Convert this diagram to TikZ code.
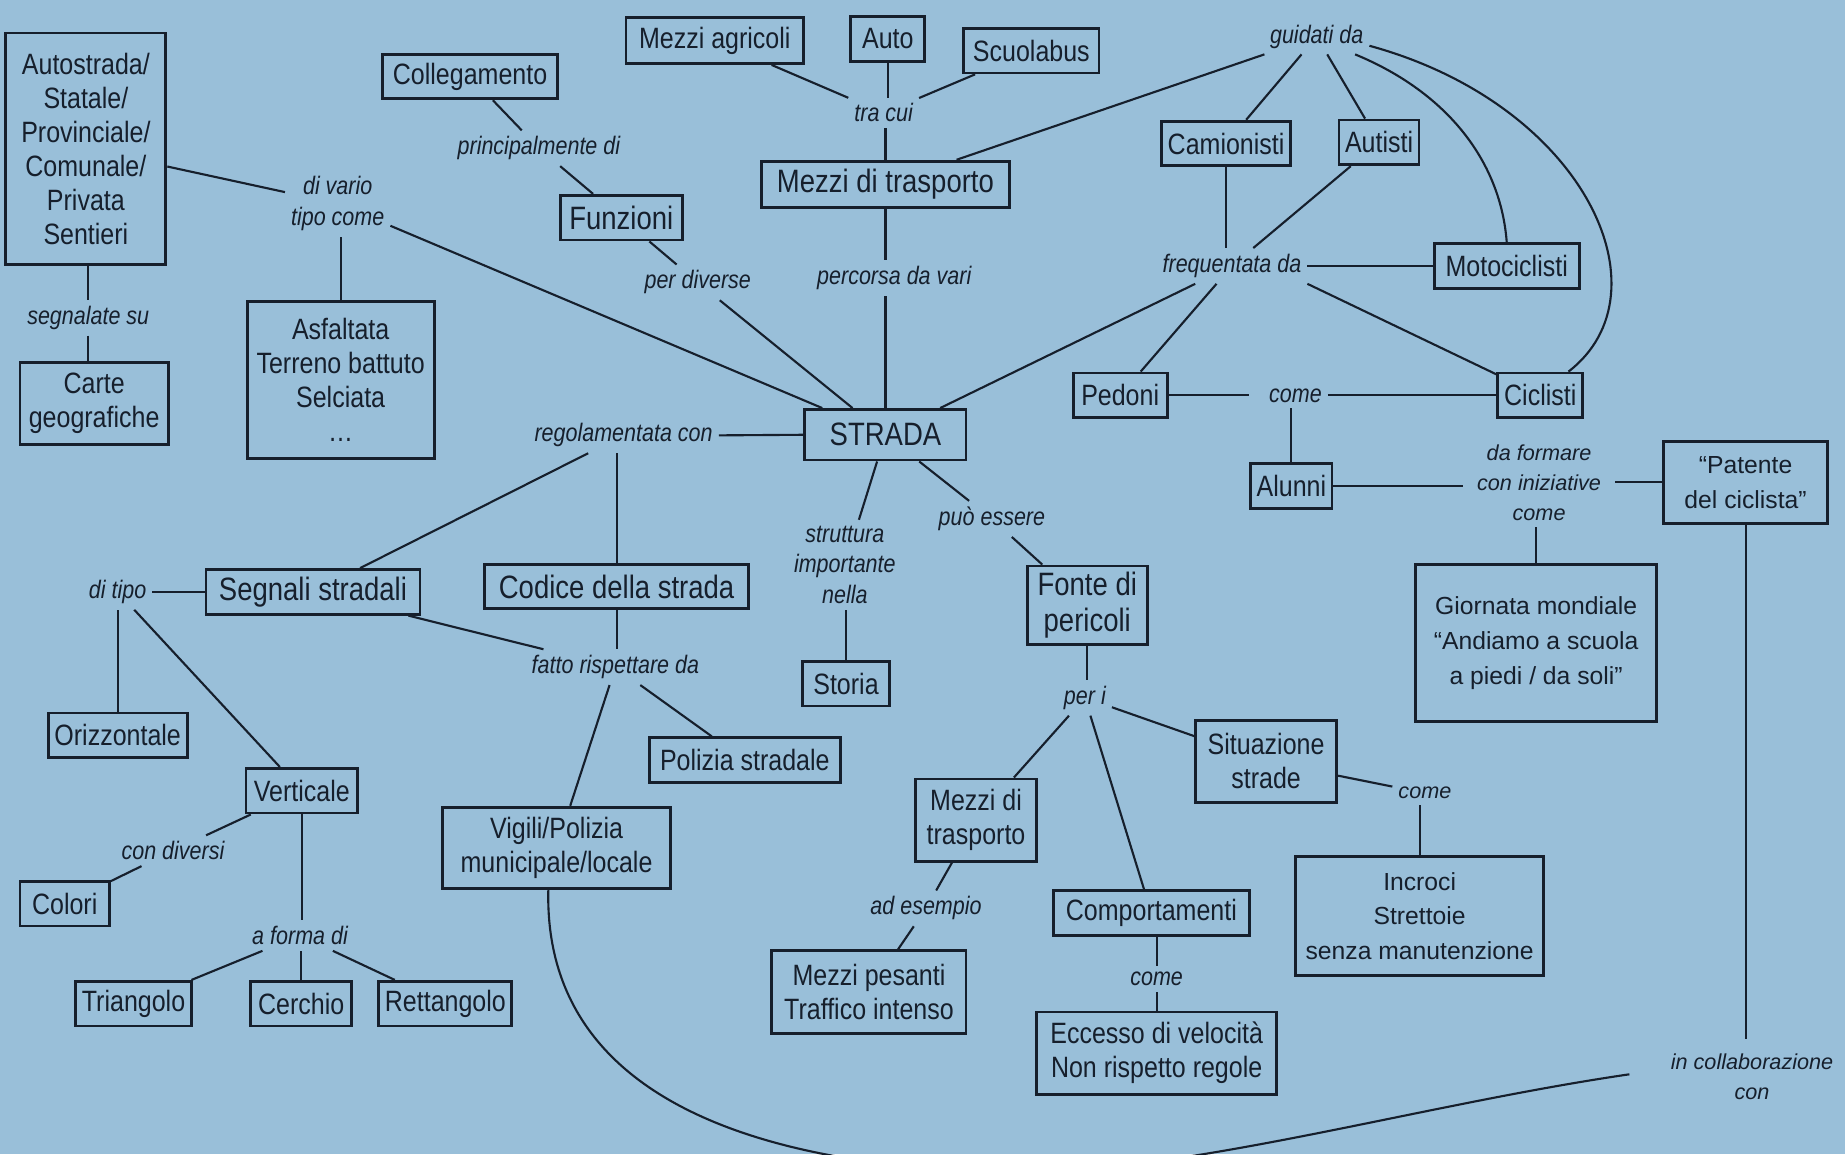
\documentclass[tikz,border=0pt]{standalone}
\usepackage{fontspec}
\setmainfont{Liberation Sans}[FakeStretch=0.85]
\newfontfamily\widefont{Liberation Sans}
\definecolor{bg}{RGB}{153,191,217}
\definecolor{fg}{RGB}{22,31,44}
\begin{document}
\begin{tikzpicture}[x=1pt,y=-1pt,
  box/.style={draw=fg, line width=2.4pt, inner sep=0pt, align=center, text=fg, font=\fontsize{25}{29}\selectfont},
  mainbox/.style={box, font=\fontsize{27.5}{31}\selectfont},
  widebox/.style={box, font=\widefont\fontsize{21}{29.5}\selectfont},
  lab/.style={inner sep=5pt, align=center, text=fg, font=\itshape\fontsize{21.5}{26}\selectfont},
  widelab/.style={lab, font=\widefont\itshape\fontsize{18.4}{25.5}\selectfont},
  conn/.style={draw=fg, line width=1.8pt},
]
\fill[bg] (0,0) rectangle (1568,981);
\useasboundingbox (0,0) rectangle (1568,981);

% boxes
\node[box, minimum width=136pt, minimum height=197pt] (autostr) at (73,126.5) {Autostrada/\\Statale/\\Provinciale/\\Comunale/\\Privata\\Sentieri};
\node[box, minimum width=126pt, minimum height=70pt] (carte) at (80,343) {Carte\\geografiche};
\node[box, minimum width=149pt, minimum height=38pt] (colleg) at (399.5,65) {Collegamento};
\node[mainbox, minimum width=104pt, minimum height=38pt] (funz) at (528,185) {Funzioni};
\node[box, minimum width=159pt, minimum height=134pt] (asfalt) at (289.5,323) {Asfaltata\\Terreno battuto\\Selciata\\…};
\node[box, minimum width=151pt, minimum height=39pt] (agric) at (607.5,34.5) {Mezzi agricoli};
\node[box, minimum width=63pt, minimum height=38pt] (autoN) at (754.5,33) {Auto};
\node[box, minimum width=115pt, minimum height=38pt] (scuola) at (876.5,43) {Scuolabus};
\node[mainbox, minimum width=211pt, minimum height=39pt] (mezzi) at (752.5,156.5) {Mezzi di trasporto};
\node[box, minimum width=110pt, minimum height=38pt] (camion) at (1042,122) {Camionisti};
\node[box, minimum width=68pt, minimum height=38pt] (autisti) at (1172,121) {Autisti};
\node[box, minimum width=123pt, minimum height=38pt] (moto) at (1280.5,226) {Motociclisti};
\node[box, minimum width=80pt, minimum height=38pt] (pedoni) at (952,336) {Pedoni};
\node[box, minimum width=72pt, minimum height=38pt] (ciclisti) at (1309,336) {Ciclisti};
\node[mainbox, minimum width=137pt, minimum height=43pt] (strada) at (752.5,369.5) {STRADA};
\node[box, minimum width=69pt, minimum height=38pt] (alunni) at (1097.5,413) {Alunni};
\node[widebox, minimum width=139pt, minimum height=70pt] (patente) at (1483.5,410) {“Patente\\del ciclista”};
\node[widebox, minimum width=205pt, minimum height=133pt] (giornata) at (1305.5,546.5) {Giornata mondiale\\“Andiamo a scuola\\a piedi / da soli”};
\node[mainbox, minimum width=182pt, minimum height=38pt] (segnali) at (266,503) {Segnali stradali};
\node[mainbox, minimum width=224pt, minimum height=37pt] (codice) at (524,498.5) {Codice della strada};
\node[box, minimum width=74pt, minimum height=38pt] (storia) at (719,581) {Storia};
\node[mainbox, minimum width=102pt, minimum height=67pt] (fonte) at (924,514.5) {Fonte di\\pericoli};
\node[box, minimum width=118pt, minimum height=38pt] (orizz) at (100,625) {Orizzontale};
\node[box, minimum width=95pt, minimum height=38pt] (vert) at (256.5,672) {Verticale};
\node[box, minimum width=162pt, minimum height=38pt] (polizia) at (633,646) {Polizia stradale};
\node[box, minimum width=194pt, minimum height=69pt] (vigili) at (473,720.5) {Vigili/Polizia\\municipale/locale};
\node[box, minimum width=120pt, minimum height=70pt] (situaz) at (1076,647) {Situazione\\strade};
\node[box, minimum width=103pt, minimum height=70pt] (mezzi2) at (829.5,697) {Mezzi di\\trasporto};
\node[box, minimum width=76pt, minimum height=38pt] (colori) at (55,768) {Colori};
\node[box, minimum width=99pt, minimum height=38pt] (triang) at (113.5,853) {Triangolo};
\node[box, minimum width=86pt, minimum height=38pt] (cerchio) at (256,853) {Cerchio};
\node[box, minimum width=113pt, minimum height=38pt] (rettang) at (378.5,853) {Rettangolo};
\node[box, minimum width=167pt, minimum height=38pt] (comport) at (978.5,776) {Comportamenti};
\node[widebox, minimum width=211pt, minimum height=101pt] (incroci) at (1206.5,778.5) {Incroci\\Strettoie\\senza manutenzione};
\node[box, minimum width=165pt, minimum height=70pt] (pesanti) at (738.5,843) {Mezzi pesanti\\Traffico intenso};
\node[box, minimum width=204pt, minimum height=70pt] (eccesso) at (983,895) {Eccesso di velocità\\Non rispetto regole};

% labels
\node[lab] (lsegn) at (75,270) {segnalate su};
\node[lab] (lvario) at (287,173) {di vario\\tipo come};
\node[lab] (lprinc) at (458,126) {principalmente di};
\node[lab] (lperdiv) at (593,240) {per diverse};
\node[lab] (ltracui) at (751,96) {tra cui};
\node[lab] (lperc) at (760,236) {percorsa da vari};
\node[lab] (lguid) at (1119,31) {guidati da};
\node[lab] (lfreq) at (1047,226) {frequentata da};
\node[lab] (lcome1) at (1101,336) {come};
\node[lab] (lregol) at (530,370) {regolamentata con};
\node[lab] (ltipo) at (100,503) {di tipo};
\node[lab] (lfatto) at (523,567) {fatto rispettare da};
\node[lab] (lstrutt) at (718,480) {struttura\\importante\\nella};
\node[lab] (lpuo) at (843,441) {può essere};
\node[widelab, inner xsep=12pt] (lformare) at (1308,410) {da formare\\con iniziative\\come};
\node[lab] (lperi) at (922,593) {per i};
\node[lab] (ldiversi) at (147,723) {con diversi};
\node[lab] (lforma) at (255,795) {a forma di};
\node[widelab] (lcome2) at (1211,674) {come};
\node[lab] (lesempio) at (787,772) {ad esempio};
\node[lab] (lcome3) at (983,832) {come};
\node[widelab, inner ysep=12pt] (lcollab) at (1489,915) {in collaborazione\\con};

% connectors
\draw[conn] (autostr) -- (lvario);
\draw[conn] (lvario) -- (strada);
\draw[conn] (asfalt.north) -- (asfalt.north |- lvario.south);
\draw[conn] (lsegn.north) -- (lsegn.north |- autostr.south);
\draw[conn] (lsegn.south) -- (lsegn.south |- carte.north);
\draw[conn] (colleg) -- (lprinc);
\draw[conn] (lprinc) -- (funz);
\draw[conn] (funz) -- (lperdiv);
\draw[conn] (lperdiv) -- (strada);
\draw[conn] (agric) -- (ltracui);
\draw[conn] (autoN.south) -- (autoN.south |- ltracui.north);
\draw[conn] (scuola) -- (ltracui);
\draw[conn] (mezzi.north) -- (mezzi.north |- ltracui.south);
\draw[conn] (mezzi.south) -- (mezzi.south |- lperc.north);
\draw[conn] (strada.north) -- (strada.north |- lperc.south);
\draw[conn] (lguid) -- (mezzi);
\draw[conn] (lguid) -- (camion);
\draw[conn] (lguid) -- (autisti);
\draw[conn] (lguid.-25) .. controls +(80,33) and +(-5,-67) .. (moto.north);
\draw[conn] (lguid.-10) .. controls +(183,50) and +(87,-67) .. ([xshift=24pt]ciclisti.north);
\draw[conn] (camion.south) -- (camion.south |- lfreq.north);
\draw[conn] (autisti) -- (lfreq);
\draw[conn] (lfreq.east) -- (moto.west);
\draw[conn] (lfreq) -- (pedoni);
\draw[conn] (lfreq) -- (strada);
\draw[conn] (lfreq.south east) -- (ciclisti);
\draw[conn] (pedoni.east) -- ([xshift=-12pt]lcome1.west);
\draw[conn] (lcome1.east) -- (ciclisti.west);
\draw[conn] (alunni.north) -- (alunni.north |- lcome1.south);
\draw[conn] (alunni.east) -- (alunni.east -| lformare.west);
\draw[conn] (lformare.east) -- (patente.west);
\draw[conn] (giornata.north) -- (giornata.north |- lformare.south);
\draw[conn] (patente.south) -- (patente.south |- lcollab.north);
\coordinate (dip) at (850,996);
\begin{scope}
\clip (0,0) rectangle (1568,981);
\draw[conn] ([xshift=-7pt]vigili.south) .. controls +(-4,165) and +(-230,-6) .. (dip)
  .. controls +(150,4) and +(-185,27) .. ([xshift=-30pt,yshift=2pt]lcollab.west);
\end{scope}
\draw[conn] (strada.west) -- (lregol.east);
\draw[conn] (lregol) -- (segnali);
\draw[conn] (codice.north) -- (codice.north |- lregol.south);
\draw[conn] (codice.south) -- (codice.south |- lfatto.north);
\draw[conn] (segnali) -- (lfatto);
\draw[conn] (lfatto) -- (vigili);
\draw[conn] (lfatto) -- (polizia);
\draw[conn] (segnali.west) -- (ltipo.east);
\draw[conn] (orizz.north) -- (orizz.north |- ltipo.south);
\draw[conn] (ltipo) -- (vert);
\draw[conn] (vert) -- (ldiversi);
\draw[conn] (ldiversi) -- (colori);
\draw[conn] (vert.south) -- (vert.south |- lforma.north);
\draw[conn] (lforma) -- (triang);
\draw[conn] (cerchio.north) -- (cerchio.north |- lforma.south);
\draw[conn] (lforma) -- (rettang);
\draw[conn] (strada) -- (lstrutt);
\draw[conn] (storia.north) -- (storia.north |- lstrutt.south);
\draw[conn] (strada) -- (lpuo);
\draw[conn] (lpuo) -- (fonte);
\draw[conn] (fonte.south) -- (fonte.south |- lperi.north);
\draw[conn] (lperi) -- (mezzi2);
\draw[conn] (lperi) -- (comport);
\draw[conn] (lperi) -- (situaz);
\draw[conn] (situaz) -- (lcome2);
\draw[conn] (incroci.north) -- (incroci.north |- lcome2.south);
\draw[conn] (mezzi2) -- (lesempio);
\draw[conn] (lesempio) -- (pesanti);
\draw[conn] (lcome3.north) -- (lcome3.north |- comport.south);
\draw[conn] (lcome3.south) -- (lcome3.south |- eccesso.north);
\end{tikzpicture}
\end{document}
